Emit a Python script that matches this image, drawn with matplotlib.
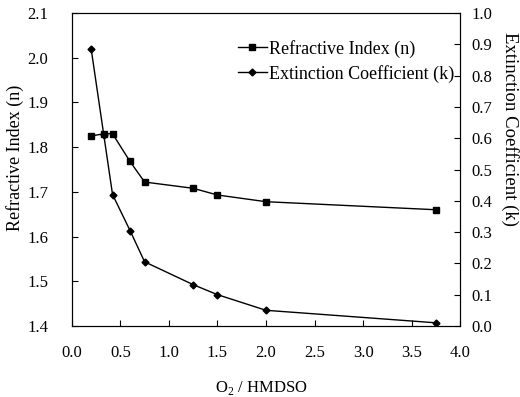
import matplotlib
matplotlib.use("Agg")
import matplotlib.pyplot as plt
from matplotlib.lines import Line2D

plt.rcParams["font.family"] = ["Liberation Serif", "DejaVu Serif"]
plt.rcParams["mathtext.fontset"] = "custom"
plt.rcParams["mathtext.rm"] = "Liberation Serif"

# O2 / HMDSO flow ratio
ratio = [0.2, 0.33, 0.42, 0.6, 0.75, 1.25, 1.5, 2.0, 3.75]
# refractive index n
n_vals = [1.825, 1.83, 1.83, 1.768, 1.722, 1.708, 1.693, 1.678, 1.66]
# extinction coefficient k
k_vals = [0.885, 0.61, 0.42, 0.305, 0.205, 0.132, 0.10, 0.05, 0.01]

left_ticks = [1.4, 1.5, 1.6, 1.7, 1.8, 1.9, 2.0, 2.1]
right_ticks = [0.0, 0.1, 0.2, 0.3, 0.4, 0.5, 0.6, 0.7, 0.8, 0.9, 1.0]
x_ticks = [0.0, 0.5, 1.0, 1.5, 2.0, 2.5, 3.0, 3.5, 4.0]

fig = plt.figure(figsize=(5.2, 3.97), dpi=100)
ax = fig.add_axes([0.138, 0.179, 0.747, 0.788])
ax2 = ax.twinx()

ax.plot(ratio, n_vals, color="black", lw=1.0, marker="s", ms=4.5)
ax2.plot(ratio, k_vals, color="black", lw=1.0, marker="D", ms=3.5)

ax.set_xlim(0, 4)
ax.set_ylim(1.4, 2.1)
ax2.set_ylim(0, 1.0)
ax.set_xticks(x_ticks)
ax.set_xticklabels([f"{v:.1f}" for v in x_ticks])
ax.set_yticks(left_ticks)
ax.set_yticklabels([f"{v:.1f}" for v in left_ticks])
ax2.set_yticks(right_ticks)
ax2.set_yticklabels([f"{v:.1f}" for v in right_ticks])

for a in (ax, ax2):
    a.tick_params(direction="in", length=4, width=0.8, labelsize=12)
ax.tick_params(axis="y", pad=17)
ax.tick_params(axis="x", pad=14)
ax2.tick_params(axis="y", pad=8)

ax.set_xlabel("O$_2$ / HMDSO", fontsize=12)
ax.xaxis.set_label_coords(0.487, -0.198)
ax.xaxis.label.set_va("center")
ax.set_ylabel("Refractive Index (n)", fontsize=13)
ax.yaxis.set_label_coords(-0.147, 0.537)
ax.yaxis.label.set_va("center")
ax2.set_ylabel("Extinction Coefficient (k)", fontsize=13.5, rotation=-90)
ax2.yaxis.set_label_coords(1.129, 0.63)
ax2.yaxis.label.set_va("center")

handles = [
    Line2D([], [], color="black", lw=1.0, marker="s", ms=4.5),
    Line2D([], [], color="black", lw=1.0, marker="D", ms=3.5),
]
ax.legend(handles, ["Refractive Index (n)", "Extinction Coefficient (k)"],
          loc="upper left", bbox_to_anchor=(0.428, 0.915), borderpad=0,
          borderaxespad=0, frameon=False, fontsize=13, handlelength=1.6,
          handletextpad=0.1, labelspacing=0.4)

fig.savefig("out.png", dpi=100)
